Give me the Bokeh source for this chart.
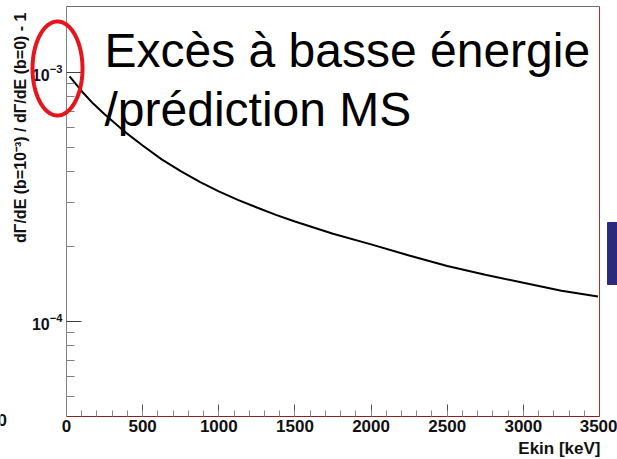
import numpy as np
from bokeh.plotting import figure
from bokeh.models import (Range1d, LinearAxis, FixedTicker, SingleIntervalTicker,
                          LogTickFormatter, Label, PolyAnnotation, BoxAnnotation)
from bokeh.embed import file_html
from bokeh.resources import INLINE

# ---- data ----
energy_kev = [20, 50, 100, 175, 250, 375, 500, 625, 750, 875, 1000, 1125,
              1250, 1375, 1500, 1750, 2000, 2250, 2500, 2750, 3000, 3250, 3490]
ratio = [9.64e-4, 9.16e-4, 8.41e-4, 7.50e-4, 6.79e-4, 5.83e-4, 5.09e-4,
         4.48e-4, 4.02e-4, 3.64e-4, 3.33e-4, 3.08e-4, 2.87e-4, 2.68e-4,
         2.52e-4, 2.25e-4, 2.04e-4, 1.84e-4, 1.67e-4, 1.54e-4, 1.43e-4,
         1.33e-4, 1.26e-4]
x_low, x_high = 0, 3500
y_low, y_high = 4.154e-5, 1.841e-3
y_major_ticks = [1e-4, 1e-3]
y_minor_ticks = [5e-5, 6e-5, 7e-5, 8e-5, 9e-5,
                 2e-4, 3e-4, 4e-4, 5e-4, 6e-4, 7e-4, 8e-4, 9e-4]
annotation_lines = ["Excès à basse énergie", "/prédiction MS"]
y_title = "dΓ/dE (b=10⁻³) / dΓ/dE (b=0) - 1"
x_title = "Ekin [keV]"
cut_label = "0"

FONT = "Liberation Sans"
W, H = 617, 459

# the frame fills the whole canvas; axes are pinned with fixed_location so
# that the slide decorations around the histogram are not clipped
p = figure(width=W, height=H, y_axis_type="log",
           x_range=Range1d(-433.40, 3618.20), y_range=Range1d(2.7914e-5, 1.9457e-3),
           output_backend="svg", toolbar_location=None,
           min_border=0, min_border_left=0, min_border_right=0,
           min_border_top=0, min_border_bottom=0)
p.xgrid.visible = False
p.ygrid.visible = False
p.outline_line_color = None
p.background_fill_color = "white"
p.border_fill_color = "white"

p.line(energy_kev, ratio, line_color="black", line_width=2)

# y axis (ROOT style, ticks inside)
ya = p.yaxis[0]
ya.fixed_location = x_low
ya.bounds = (y_low, y_high)
ya.ticker = FixedTicker(ticks=y_major_ticks, minor_ticks=y_minor_ticks)
ya.formatter = LogTickFormatter()
ya.major_tick_in = 15
ya.major_tick_out = 0
ya.minor_tick_in = 8
ya.minor_tick_out = 0
ya.axis_line_color = "#808080"
ya.major_tick_line_color = "#404040"
ya.minor_tick_line_color = "#808080"
ya.major_label_text_font = FONT
ya.major_label_text_font_style = "bold"
ya.major_label_text_font_size = "16px"
ya.major_label_text_color = "#111122"
ya.major_label_standoff = 4

# x axis
xa = p.xaxis[0]
xa.fixed_location = y_low
xa.bounds = (x_low, x_high)
xa.ticker = SingleIntervalTicker(interval=500, num_minor_ticks=5)
xa.major_tick_in = 12
xa.major_tick_out = 0
xa.minor_tick_in = 6
xa.minor_tick_out = 0
xa.axis_line_color = "#8b2020"
xa.major_tick_line_color = "#505050"
xa.minor_tick_line_color = "#888888"
xa.major_label_text_font = FONT
xa.major_label_text_font_style = "bold"
xa.major_label_text_font_size = "17px"
xa.major_label_text_color = "#111111"
xa.major_label_standoff = 3

# frame top (gray) and right (red)
ta = LinearAxis(fixed_location=y_high, bounds=(x_low, x_high),
                ticker=FixedTicker(ticks=[]), axis_line_color="#707070",
                major_tick_in=0, major_tick_out=0, minor_tick_in=0,
                minor_tick_out=0, major_label_text_font_size="0px")
p.add_layout(ta, "above")
ra = LinearAxis(fixed_location=x_high, bounds=(y_low, y_high),
                ticker=FixedTicker(ticks=[]), axis_line_color="#d42020",
                major_tick_in=0, major_tick_out=0, minor_tick_in=0,
                minor_tick_out=0, major_label_text_font_size="0px")
p.add_layout(ra, "right")

# titles (screen units, origin at bottom-left of canvas)
p.add_layout(Label(x=20, y=447, x_units="screen", y_units="screen",
                   text=y_title, angle=np.pi / 2, text_align="right",
                   text_baseline="middle", text_font=FONT,
                   text_font_style="bold", text_font_size="16px",
                   text_color="#111111"))
p.add_layout(Label(x=600, y=11, x_units="screen", y_units="screen",
                   text=x_title, text_align="right", text_baseline="alphabetic",
                   text_font=FONT, text_font_style="bold",
                   text_font_size="17px", text_color="#111111"))
p.add_layout(Label(x=-3, y=40, x_units="screen", y_units="screen",
                   text=cut_label, text_align="left", text_baseline="alphabetic",
                   text_font=FONT, text_font_style="bold",
                   text_font_size="17px", text_color="#111111"))

# big annotation text
for txt, yy in zip(annotation_lines, [409, 350]):
    p.add_layout(Label(x=104, y=yy, x_units="screen", y_units="screen",
                       text=txt, text_align="left", text_baseline="alphabetic",
                       text_font=FONT, text_font_size="48px",
                       text_color="black"))

# red ellipse highlight
t = np.linspace(0, 2 * np.pi, 120)
ex = list(57 + 25 * np.cos(t))
ey = list(391 + 47 * np.sin(t))
p.add_layout(PolyAnnotation(xs=ex, ys=ey, xs_units="screen", ys_units="screen",
                            fill_alpha=0, line_color="#e8141b", line_alpha=1,
                            line_width=4))

# navy block at right edge
p.add_layout(BoxAnnotation(left=607, right=620, bottom=175, top=237,
                           left_units="screen", right_units="screen",
                           bottom_units="screen", top_units="screen",
                           fill_color="#2b2a7c", fill_alpha=1,
                           line_color="#2b2a7c", line_alpha=1))

open("out.html", "w").write(file_html(p, INLINE))
